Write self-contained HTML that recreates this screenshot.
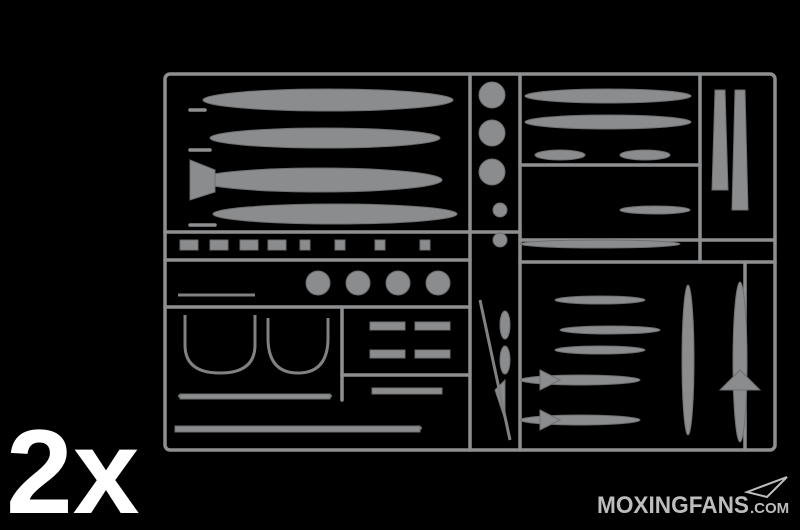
<!DOCTYPE html>
<html><head><meta charset="utf-8"><style>
html,body{margin:0;padding:0;background:#000;width:800px;height:530px;overflow:hidden}
svg{display:block}
</style></head><body>
<svg width="800" height="530" viewBox="0 0 800 530" xmlns="http://www.w3.org/2000/svg">
<rect width="800" height="530" fill="#000"/>
<g stroke="#8d8f91" stroke-width="3.5" fill="none" stroke-linecap="round">
 <rect x="165" y="74" width="610" height="376" rx="5"/>
 <line x1="470" y1="74" x2="470" y2="450"/>
 <line x1="520" y1="74" x2="520" y2="450"/>
 <line x1="165" y1="232" x2="520" y2="232"/>
 <line x1="520" y1="240" x2="775" y2="240"/>
 <line x1="520" y1="262" x2="775" y2="262"/>
 <line x1="700" y1="74" x2="700" y2="262"/>
 <line x1="165" y1="260" x2="470" y2="260"/>
 <line x1="165" y1="307" x2="470" y2="307"/>
 <line x1="342" y1="307" x2="342" y2="400"/>
 <line x1="342" y1="375" x2="470" y2="375"/>
 <line x1="520" y1="165" x2="700" y2="165"/>
 <line x1="180" y1="396" x2="330" y2="396"/>
 <line x1="178" y1="428" x2="420" y2="428"/>
 <line x1="190" y1="110" x2="205" y2="110"/>
 <line x1="190" y1="150" x2="210" y2="150"/>
 <line x1="190" y1="225" x2="215" y2="225"/>
 <line x1="745" y1="262" x2="745" y2="450"/>
</g>
<g fill="#8a8c8e" stroke="#6d6f71" stroke-width="1">
 <ellipse cx="328" cy="100" rx="125" ry="11"/>
 <ellipse cx="325" cy="138" rx="115" ry="10"/>
 <ellipse cx="320" cy="180" rx="122" ry="12"/>
 <polygon points="190,160 215,170 215,192 190,200"/>
 <ellipse cx="335" cy="214" rx="122" ry="10"/>
 <ellipse cx="608" cy="96" rx="83" ry="7"/>
 <ellipse cx="608" cy="122" rx="83" ry="7"/>
 <circle cx="492" cy="95" r="13"/><circle cx="492" cy="133" r="13"/><circle cx="492" cy="172" r="13"/>
 <circle cx="500" cy="210" r="7"/><circle cx="500" cy="240" r="7"/>
 <circle cx="318" cy="283" r="12"/><circle cx="358" cy="283" r="12"/><circle cx="398" cy="283" r="12"/><circle cx="438" cy="283" r="12"/>
 <rect x="180" y="240" width="18" height="10"/><rect x="210" y="240" width="18" height="10"/>
 <rect x="240" y="240" width="18" height="10"/><rect x="268" y="240" width="18" height="10"/>
 <rect x="300" y="240" width="10" height="10"/><rect x="335" y="240" width="10" height="10"/>
 <rect x="375" y="240" width="10" height="10"/><rect x="420" y="240" width="10" height="10"/>
 <rect x="370" y="322" width="35" height="8"/><rect x="415" y="322" width="35" height="8"/>
 <rect x="370" y="350" width="35" height="8"/><rect x="415" y="350" width="35" height="8"/>
 <rect x="372" y="388" width="70" height="6"/>
 <rect x="180" y="394" width="150" height="5"/>
 <rect x="175" y="426" width="245" height="6"/>
 <ellipse cx="688" cy="360" rx="6" ry="75"/>
 <ellipse cx="740" cy="362" rx="7" ry="80"/>
 <polygon points="720,390 740,370 760,390"/>
 <ellipse cx="600" cy="244" rx="80" ry="4"/>
 <ellipse cx="580" cy="380" rx="60" ry="5"/>
 <ellipse cx="580" cy="420" rx="60" ry="5"/>
 <polygon points="540,370 560,380 540,390"/>
 <polygon points="540,410 560,420 540,430"/>
 <ellipse cx="610" cy="330" rx="50" ry="4"/>
 <ellipse cx="600" cy="300" rx="45" ry="4"/>
 <ellipse cx="600" cy="350" rx="45" ry="4"/>
 <ellipse cx="655" cy="210" rx="35" ry="4"/>
 <polygon points="715,90 725,90 728,190 712,190"/>
 <polygon points="735,90 745,90 748,210 732,210"/>
 <ellipse cx="560" cy="155" rx="25" ry="5"/>
 <ellipse cx="645" cy="155" rx="25" ry="5"/>
 <ellipse cx="505" cy="325" rx="5" ry="14"/>
 <ellipse cx="505" cy="360" rx="5" ry="14"/>
 <polygon points="495,390 505,380 505,420"/>
</g>
<g stroke="#7f8183" stroke-width="3" fill="none">
 <path d="M185 315 v30 q0 28 35 28 q35 0 35 -28 v-30"/>
 <path d="M268 318 v20 q0 35 30 35 q30 0 30 -35 v-20"/>
 <line x1="178" y1="295" x2="255" y2="295"/>
 <line x1="480" y1="300" x2="510" y2="440"/>
</g>
<text x="6" y="513" font-family="Liberation Sans, sans-serif" font-weight="bold" font-size="120" fill="#fff">2x</text>
<g fill="#bdbdbd" font-family="Liberation Sans Narrow, Liberation Sans, sans-serif" font-weight="bold">
<text x="597" y="513" font-size="24" textLength="152" lengthAdjust="spacingAndGlyphs">MOXINGFANS</text>
<text x="750" y="513" font-size="15">.COM</text>
</g>
<path d="M747 492 l40 -15 l-20 20 z" fill="none" stroke="#bdbdbd" stroke-width="2"/>
</svg>
</body></html>
